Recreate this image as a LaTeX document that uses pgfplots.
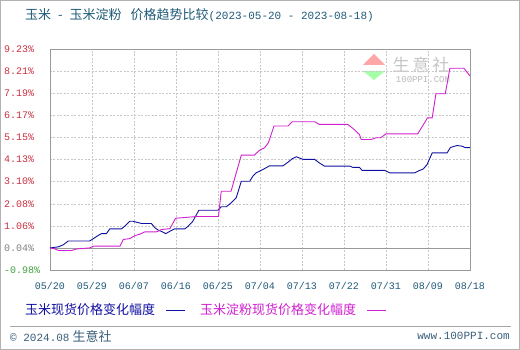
\documentclass[border=0pt]{standalone}
\usepackage{pgfplots}
\pgfplotsset{compat=1.18}
\usepackage{fontspec}
\setmainfont{Noto Sans CJK SC}
\setmonofont{Liberation Mono}
\definecolor{cornblue}{HTML}{1010A0}
\definecolor{starchmag}{HTML}{D020D0}
\definecolor{titlecol}{HTML}{1F5A78}
\definecolor{ticked}{HTML}{C83040}
\definecolor{tickgreen}{HTML}{40A040}
\definecolor{gridcol}{HTML}{C8C8C8}
\definecolor{footcol}{HTML}{3A5F7A}

\pgfplotstableread{
day val
0 0.04
1.8 0.09
2.9 0.19
3.9 0.36
8.5 0.36
9.3 0.47
10.3 0.61
11 0.70
12.1 0.70
12.8 0.92
15.3 0.92
16 1.04
17.1 1.27
17.8 1.27
18.5 1.23
19.6 1.17
21.7 1.17
22.5 0.97
23.2 0.86
23.9 0.80
24.8 0.70
25.7 0.81
26.7 0.92
28.9 0.92
29.6 1.04
30.6 1.27
31.9 1.78
36 1.78
36.7 1.94
37.8 1.94
38.8 2.12
39.9 2.35
41 3.12
42.8 3.12
43.5 3.36
44.2 3.51
45.3 3.63
46.3 3.74
47 3.83
49.9 3.83
51 4.00
51.9 4.16
52.8 4.25
54.2 4.13
56.7 4.13
57.7 3.97
58.8 3.82
64.2 3.82
64.9 3.76
66.3 3.76
66.9 3.62
71.7 3.62
72.8 3.51
78.2 3.51
78.9 3.59
80 3.69
80.8 3.89
81.9 4.43
85.1 4.43
85.8 4.68
87.2 4.77
88.3 4.74
89 4.67
90 4.67
}\corn

\pgfplotstableread{
day val
0 0.04
1.1 -0.01
1.8 -0.08
4.6 -0.08
5.7 -0.01
8.5 0.04
9.3 0.12
15 0.12
15.7 0.43
17.1 0.47
18.2 0.61
19.2 0.67
20.3 0.78
22.8 0.78
23.9 0.89
25.7 0.93
26.9 1.41
31.4 1.49
36.1 1.49
36.7 2.66
38.8 2.66
41 4.33
43.8 4.33
44.9 4.55
46.0 4.67
46.8 4.90
48.0 5.67
51.0 5.67
51.9 5.87
56.7 5.87
57.7 5.75
63.8 5.75
65.2 5.51
66.3 5.28
66.7 5.05
68.8 5.05
69.9 5.13
70.9 5.13
72.0 5.31
78.8 5.31
80.9 6.05
81.9 6.05
82.7 7.16
84.7 7.16
85.7 8.34
88.7 8.34
90 7.98
}\starch

\begin{document}
\begin{tikzpicture}[x=1pt,y=1pt]
\useasboundingbox (0,0) rectangle (520,350);
\fill[white] (0,0) rectangle (520,350);
\draw[gray!60, line width=1pt] (0.5,0.5) rectangle (519.5,349.5);
% title
\node[anchor=west, inner sep=0, text=titlecol, font=\fontsize{13}{15}\selectfont] at (25,335)
  {玉米\hspace{7pt}-\hspace{7pt}玉米淀粉\hspace{9pt}价格趋势比较{\ttfamily\fontsize{11}{13}\selectfont(2023-05-20 - 2023-08-18)}};
% watermark
\fill[red!35!white] (374,296) -- (363,285) -- (385,285) -- cycle;
\fill[green!35!white] (363,279) -- (385,279) -- (374,270) -- cycle;
\node[text=gray!45, font=\fontsize{17}{19}\selectfont, inner sep=0] at (421,285) {生\,意\,社};
\node[text=gray!55, font=\ttfamily\fontsize{9}{11}\selectfont, inner sep=0] at (423,270) {100PPI.COM};
\begin{axis}[
  at={(50pt,80pt)}, anchor=south west,
  scale only axis, width=420pt, height=221pt,
  xmin=0, xmax=90, ymin=-0.98, ymax=9.23,
  axis line style={color=gray!80},
  major tick length=0pt,
  grid=major,
  major grid style={color=gridcol, dash pattern=on 2pt off 1.5pt, line width=0.5pt},
  xtick={0,9,...,90},
  xticklabels={05/20,05/29,06/07,06/16,06/25,07/04,07/13,07/22,07/31,08/09,08/18},
  xticklabel style={text=titlecol, font=\ttfamily\fontsize{10}{12}\selectfont, yshift=-9pt},
  ytick={-0.98,0.04,1.06,2.08,3.10,4.13,5.15,6.17,7.19,8.21,9.23},
  yticklabels={\textcolor{tickgreen}{-0.98\%},\textcolor{gray}{0.04\%},1.06\%,2.08\%,3.10\%,4.13\%,5.15\%,6.17\%,7.19\%,8.21\%,9.23\%},
  yticklabel style={text=ticked, font=\ttfamily\fontsize{10}{12}\selectfont, anchor=west, inner sep=0pt, xshift=-46pt},
]
\draw[gray!80, line width=0.8pt] (axis cs:0,0.04) -- (axis cs:90,0.04);
\addplot[cornblue, line width=0.9pt, mark=none] table[x=day,y=val] {\corn};
\addplot[starchmag, line width=0.9pt, mark=none] table[x=day,y=val] {\starch};
\end{axis}
% legend
\node[anchor=west, inner sep=0, text=cornblue, font=\fontsize{13}{15}\selectfont] at (25,40) {玉米现货价格变化幅度};
\draw[cornblue, line width=0.8pt] (166,40) -- (185,40);
\node[anchor=west, inner sep=0, text=starchmag, font=\fontsize{13}{15}\selectfont] at (200,40) {玉米淀粉现货价格变化幅度};
\draw[starchmag, line width=0.8pt] (367,40) -- (386,40);
% footer
\draw[gray!70, line width=0.8pt] (10,24) -- (511,24);
\node[anchor=west, inner sep=0, text=footcol, font=\fontsize{13}{15}\selectfont] at (10,14)
  {{\ttfamily\fontsize{11}{13}\selectfont\textcopyright{} 2024.08} 生意社};
\node[anchor=east, inner sep=0, text=footcol, font=\ttfamily\fontsize{11}{13}\selectfont] at (510,14) {www.100PPI.com};
\end{tikzpicture}
\end{document}
